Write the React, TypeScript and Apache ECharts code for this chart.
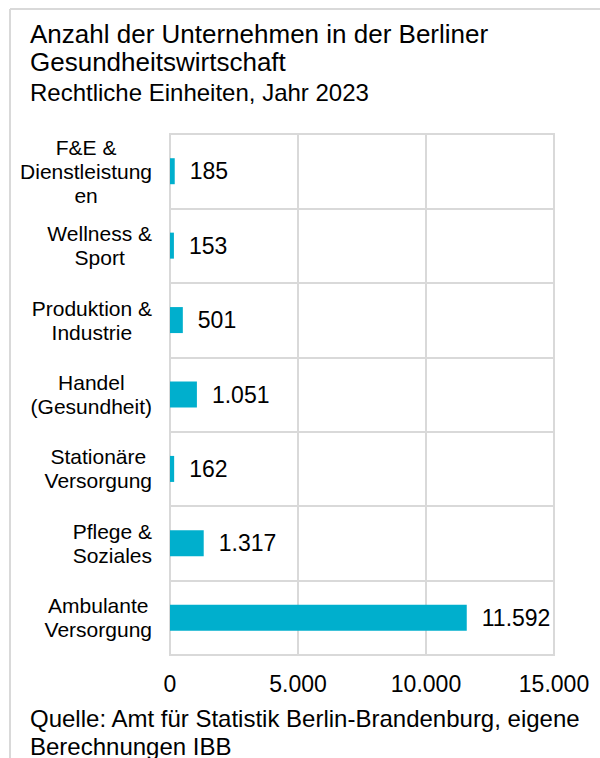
import React, { useEffect, useRef } from "react";
import * as echarts from "echarts";

const categories = [
  "Ambulante\nVersorgung",
  "Pflege &\nSoziales",
  "Stationäre\nVersorgung",
  "Handel\n(Gesundheit)",
  "Produktion &\nIndustrie",
  "Wellness &\nSport",
  "F&E &\nDienstleistung\nen",
];
const values = [11592, 1317, 162, 1051, 501, 153, 185];
const xTicks = { min: 0, max: 15000, interval: 5000 };

const titleLines = "Anzahl der Unternehmen in der Berliner\nGesundheitswirtschaft";
const subtitle = "Rechtliche Einheiten, Jahr 2023";
const source = "Quelle: Amt für Statistik Berlin-Brandenburg, eigene\nBerechnungen IBB";

const FONT = "Liberation Sans, Arial, Helvetica, sans-serif";
const GRID = "#d9d9d9";
const BAR = "#00afcd";

const fmt = (v: number) => String(v).replace(/\B(?=(\d{3})+(?!\d))/g, ".");

export default function App() {
  const ref = useRef<HTMLDivElement>(null);
  useEffect(() => {
    if (!ref.current) return;
    const chart = echarts.init(ref.current, undefined, { renderer: "svg" });
    chart.setOption({
      animation: false,
      backgroundColor: "#ffffff",
      textStyle: { fontFamily: FONT },
      title: [
        {
          text: titleLines,
          left: 30,
          top: 20,
          padding: 0,
          textStyle: { fontFamily: FONT, fontSize: 26, fontWeight: "normal", color: "#000", lineHeight: 28 },
        },
        {
          text: subtitle,
          left: 30,
          top: 78,
          padding: 0,
          textStyle: { fontFamily: FONT, fontSize: 24, fontWeight: "normal", color: "#000", lineHeight: 28 },
        },
        {
          text: source,
          left: 30,
          top: 704,
          padding: 0,
          textStyle: { fontFamily: FONT, fontSize: 24, fontWeight: "normal", color: "#000", lineHeight: 28 },
        },
      ],
      graphic: [
        { type: "line", shape: { x1: 10, y1: 9, x2: 600, y2: 9 }, style: { stroke: GRID, lineWidth: 2 } },
        { type: "line", shape: { x1: 10, y1: 9, x2: 10, y2: 758 }, style: { stroke: GRID, lineWidth: 2 } },
      ],
      grid: {
        left: 170,
        right: 46,
        top: 134,
        bottom: 103,
        show: true,
        borderColor: GRID,
        borderWidth: 2,
        containLabel: false,
      },
      xAxis: {
        type: "value",
        min: xTicks.min,
        max: xTicks.max,
        interval: xTicks.interval,
        axisLine: { show: false },
        axisTick: { show: false },
        splitLine: { show: true, lineStyle: { color: GRID, width: 2 } },
        axisLabel: {
          margin: 17,
          fontSize: 23,
          color: "#000",
          fontFamily: FONT,
          formatter: (v: number) => fmt(v),
        },
      },
      yAxis: {
        type: "category",
        data: categories,
        axisLine: { show: true, lineStyle: { color: GRID, width: 2 } },
        axisTick: { show: false },
        splitLine: { show: true, lineStyle: { color: GRID, width: 2 } },
        axisLabel: {
          margin: 18,
          fontSize: 21,
          lineHeight: 24,
          color: "#000",
          fontFamily: FONT,
          formatter: (v: string) =>
            v
              .split("\n")
              .map((l) => "{c|" + l + "}")
              .join("\n"),
          rich: {
            c: { align: "center", fontSize: 21, lineHeight: 24, fontFamily: FONT, color: "#000" },
          },
        },
      },
      series: [
        {
          type: "bar",
          data: values,
          barWidth: 26,
          itemStyle: { color: BAR },
          label: {
            show: true,
            position: "right",
            distance: 15,
            fontSize: 23,
            color: "#000",
            fontFamily: FONT,
            formatter: (p: any) => fmt(p.value),
          },
        },
      ],
    });
    return () => chart.dispose();
  }, []);
  return (
    <div
      ref={ref}
      style={{ position: "absolute", left: 0, top: 0, width: 600, height: 758 }}
    />
  );
}
